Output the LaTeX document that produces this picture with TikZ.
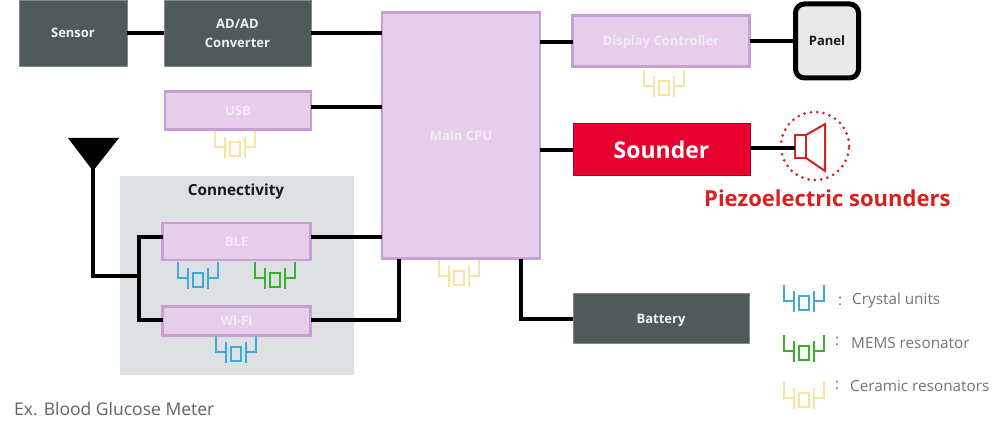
\documentclass[tikz,border=0pt]{standalone}
\usepackage{fontspec}
\setmainfont{Open Sans}
\definecolor{slatebox}{HTML}{505A5B}
\definecolor{lilacfill}{HTML}{E6CEEA}
\definecolor{lilacline}{HTML}{C79FD2}
\definecolor{lilactext}{HTML}{F3EAF6}
\definecolor{soundred}{HTML}{E8002E}
\definecolor{piezored}{HTML}{D8201C}
\definecolor{groupgrey}{HTML}{DDE0E3}
\definecolor{panelgrey}{HTML}{E9E9E9}
\definecolor{xtalblue}{HTML}{3FAAD6}
\definecolor{memsgreen}{HTML}{3CB02C}
\definecolor{ceramicyellow}{HTML}{F8E3A2}
\definecolor{captiongrey}{HTML}{5F6468}
\definecolor{legendgrey}{HTML}{70757A}
\tikzset{
  darkbox/.style={rectangle,fill=slatebox,draw=slatebox!70!white,line width=.6pt,inner sep=0pt,outer sep=0pt,
    text=white!92!slatebox,font=\fontsize{13}{19}\selectfont\bfseries,align=center},
  lilacbox/.style={rectangle,fill=lilacfill,draw=lilacline,line width=2.6pt,inner sep=0pt,outer sep=0pt,
    text=lilactext,font=\fontsize{13}{16}\selectfont\bfseries,align=center},
  wire/.style={draw=black,line width=3.1pt,line cap=butt,line join=miter},
  legendtext/.style={text=legendgrey,font=\fontsize{15.3}{18}\selectfont,anchor=west,inner sep=0pt},
  pics/resonator/.style={code={
    \draw[#1,line width=2pt,line join=miter]
      (-20,0) -- (-20,16) -- (-10,16)
      (-10,6) -- (-10,27)
      (-5,11) rectangle (5,25)
      (10,6) -- (10,27)
      (10,16) -- (20,16) -- (20,0);
  }},
}
\begin{document}
\begin{tikzpicture}[x=1pt,y=-1pt]
\useasboundingbox (0,0) rectangle (1002,435);

% Shaded group behind the radio blocks
\node[fill=groupgrey,minimum width=234pt,minimum height=199pt,inner sep=0pt,outer sep=0pt] (group) at (237,275.5) {};
\node[font=\fontsize{15.3}{18}\selectfont\bfseries,text=black!90] (grouptitle) at (236,192) {Connectivity};

% Functional blocks
\node[darkbox,minimum width=108pt,minimum height=66pt,text depth=0pt] (sensor) at (73,33) {Sensor};
\node[darkbox,minimum width=147pt,minimum height=66pt] (adc) at (237.5,33) {AD/AD\\Converter};
\node[lilacbox,minimum width=146pt,minimum height=38pt,text depth=0pt] (usb) at (238,110.5) {USB};
\node[lilacbox,minimum width=158pt,minimum height=246pt] (cpu) at (461,135.5) {Main CPU};
\node[lilacbox,minimum width=177pt,minimum height=51pt,text depth=0pt] (display) at (661,41) {Display Controller};
\node[rectangle,rounded corners=9pt,fill=panelgrey,draw=black,line width=5pt,minimum width=63pt,minimum height=74pt,
  inner sep=0pt,outer sep=0pt,font=\fontsize{13}{16}\selectfont\bfseries,text=black!90] (panel) at (827,41) {Panel};
\node[rectangle,fill=soundred,draw=soundred!75!black,line width=1pt,minimum width=177pt,minimum height=52pt,
  inner sep=0pt,outer sep=0pt,text=white,font=\fontsize{23}{26}\selectfont\bfseries] (sounder) at (661.5,150) {Sounder};
\node[darkbox,minimum width=176pt,minimum height=50pt,text depth=0pt] (battery) at (661,318.5) {Battery};
\node[lilacbox,minimum width=148pt,minimum height=37pt] (ble) at (236.5,241.5) {BLE};
\node[lilacbox,minimum width=148pt,minimum height=29pt] (wifi) at (236.5,321) {Wi-Fi};

% Antenna and the speaker symbol
\fill[black] (68,138) -- (119,138) -- (93,171) -- cycle;
\coordinate (mast) at (93,165);
\coordinate (busjoin) at (139,276);
\coordinate (bletap) at (139,237);
\coordinate (wifitap) at (139,320);
\coordinate (cpudrop) at (399,259);
\coordinate (batterydrop) at (521,259);
\node[circle,draw=piezored,line width=3pt,dash pattern=on 0pt off 6.4pt,line cap=round,minimum size=68pt,inner sep=0pt,outer sep=0pt] (horn) at (815,146) {};
\node[rectangle,draw=piezored,line width=2pt,minimum width=11pt,minimum height=23pt,inner sep=0pt,outer sep=0pt] (driver) at (800.5,146.5) {};
\draw[piezored,line width=2pt,line join=miter] (driver.north east) -- (825,124) -- (825,171) -- (driver.south east);

% Connections
\draw[wire] (sensor.east) -- (adc.west);
\draw[wire] (adc.east) -- (adc.east -| cpu.west);
\draw[wire] (usb.east |- 0,107) -- (cpu.west |- 0,107);
\draw[wire] (cpu.east |- 0,42) -- (display.west |- 0,42);
\draw[wire] (display.east) -- (panel.west);
\draw[wire] (cpu.east |- sounder) -- (sounder.west);
\draw[wire] (sounder.east |- 0,148) -- (driver.west |- 0,148);
\draw[wire] (ble.east |- bletap) -- (cpu.west |- bletap);
\draw[wire] (wifi.east |- wifitap) -- (wifitap -| cpudrop) -- (cpudrop);
\draw[wire] (batterydrop) |- (battery.west |- 0,319);
\draw[wire] (mast) |- (busjoin);
\draw[wire] (ble.west |- bletap) -- (bletap) -- (wifitap) -- (wifi.west |- wifitap);

% Resonators attached to the blocks
\pic at (235,131) {resonator=ceramicyellow};
\pic at (459,260) {resonator=ceramicyellow};
\pic at (664,70) {resonator=ceramicyellow};
\pic at (197.5,262) {resonator=xtalblue};
\pic at (275,262) {resonator=memsgreen};
\pic at (235.5,336) {resonator=xtalblue};

% Key
\pic at (804,285) {resonator=xtalblue};
\pic at (804,335) {resonator=memsgreen};
\pic at (804,382) {resonator=ceramicyellow};
\node[legendtext] (keycolona) at (838,301) {:};
\node[legendtext] (keycolonb) at (835,341) {:};
\node[legendtext] (keycolonc) at (835,385) {:};
\node[legendtext] (keya) at (852,301) {Crystal units};
\node[legendtext] (keyb) at (851,343) {MEMS resonator};
\node[legendtext] (keyc) at (850,386) {Ceramic resonators};

% Captions
\node[anchor=west,inner sep=0pt,text=piezored,font=\fontsize{22}{26}\selectfont\bfseries] (piezo) at (704,198) {Piezoelectric sounders};
\node[anchor=west,inner sep=0pt,text=captiongrey,font=\fontsize{17.5}{21}\selectfont] (caption) at (14,409) {Ex. Blood Glucose Meter};
\end{tikzpicture}
\end{document}
